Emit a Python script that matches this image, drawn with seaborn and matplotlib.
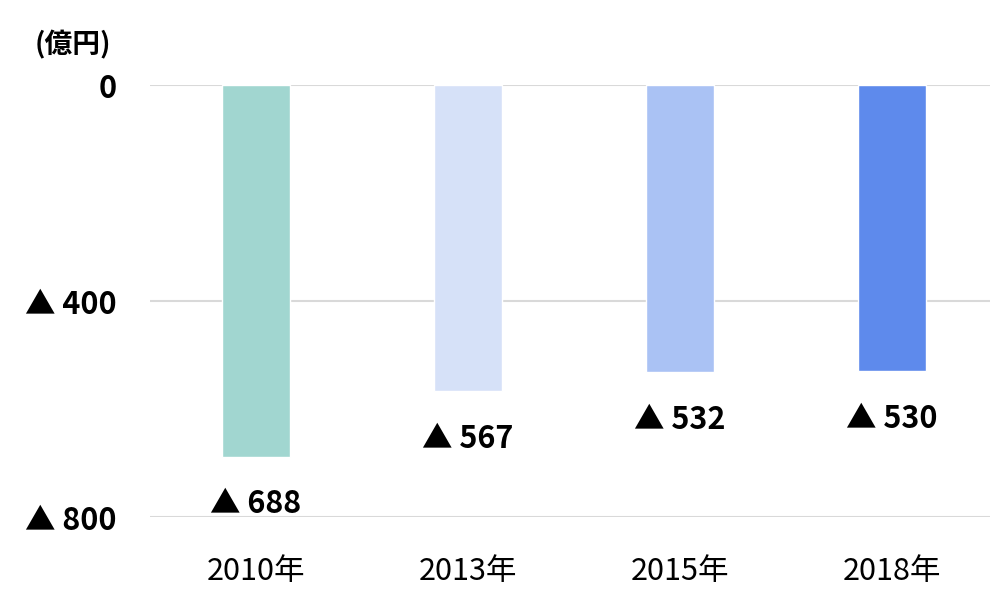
import pandas as pd
import matplotlib.pyplot as plt
import seaborn as sns

years = ['2010年', '2013年', '2015年', '2018年']
values = [-688, -567, -532, -530]
colors = ['#A1D6D0', '#D6E1F8', '#AAC2F4', '#5E8AEC']
yticks = [0, -400, -800]
ytick_labels = ['0', '▲ 400', '▲ 800']

sns.set_style('white')
plt.rcParams['font.family'] = ['Noto Sans CJK JP', 'DejaVu Sans']
plt.rcParams['text.color'] = 'black'
plt.rcParams['xtick.color'] = 'black'
plt.rcParams['ytick.color'] = 'black'

df = pd.DataFrame({'year': years, 'value': values})

fig = plt.figure(figsize=(9.91, 5.90), dpi=100)
ax = fig.add_axes([150/991, 1 - 517/590, 840/991, 432/590])

sns.barplot(data=df, x='year', y='value', hue='year', palette=colors,
            width=0.32, legend=False, ax=ax, saturation=1)

ax.set_xlim(-0.5, 3 + 98/212)
ax.set_ylim(-800, 0)
ax.set_yticks(yticks)
ax.set_yticklabels(ytick_labels, fontsize=22, fontweight='bold')
ax.tick_params(axis='x', labelsize=22, length=0, pad=28)
ax.tick_params(axis='y', length=0, pad=24)
ax.set_xlabel('')
ax.set_ylabel('')
for s in ax.spines.values():
    s.set_visible(False)
ax.grid(axis='y', color='#d9d9d9', linewidth=1.5)
ax.set_axisbelow(True)

for i, v in enumerate(values):
    ax.text(i, v - 88, f'▲ {-v}', ha='center', va='center',
            fontsize=22, fontweight='bold', clip_on=False)

fig.text(35/991, 1 - 45/590, '(億円)', ha='left', va='center',
         fontsize=20, fontweight='bold')

fig.savefig('out.png', dpi=100)
